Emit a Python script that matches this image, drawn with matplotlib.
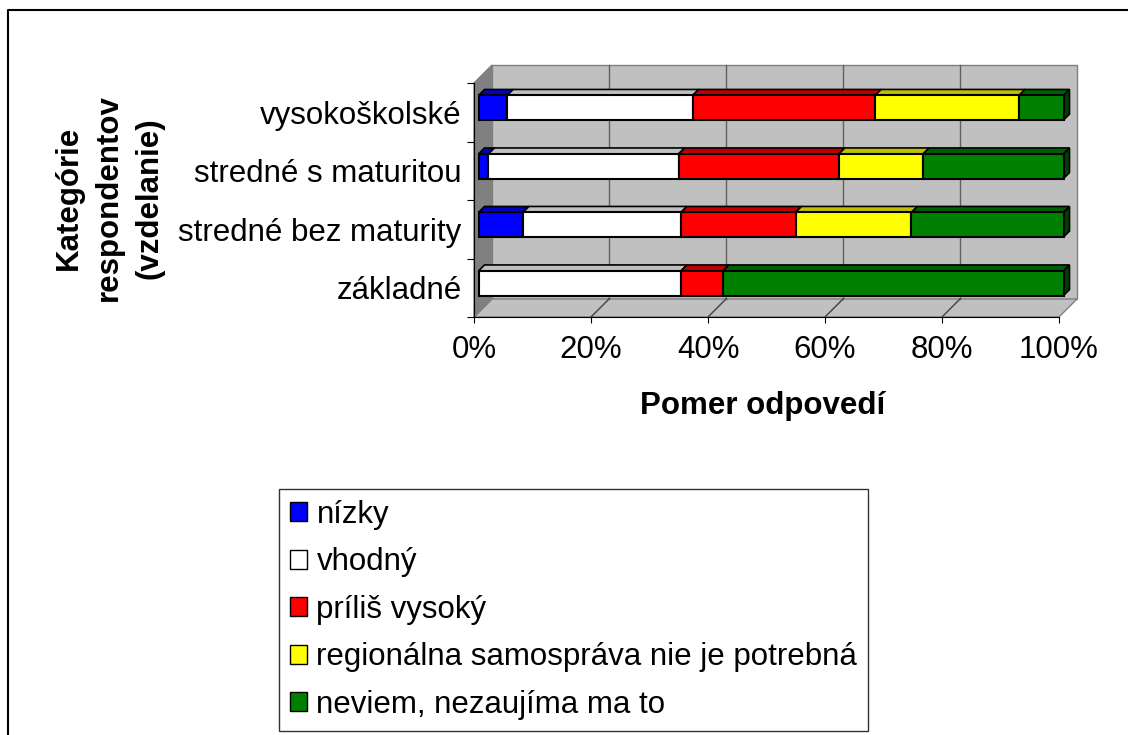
import matplotlib.pyplot as plt
from matplotlib.patches import Polygon, Patch
from matplotlib.lines import Line2D

plt.rcParams['font.family'] = ['Liberation Sans', 'DejaVu Sans']

# data (percent of answers), bottom category first
kategorie = ['základné', 'stredné bez maturity', 'stredné s maturitou', 'vysokoškolské']
odpovede = ['nízky', 'vhodný', 'príliš vysoký',
            'regionálna samospráva nie je potrebná', 'neviem, nezaujíma ma to']
nizky = [0.0, 7.6, 1.7, 4.9]
vhodny = [34.6, 27.0, 32.5, 31.7]
prilis_vysoky = [7.2, 19.6, 27.4, 31.2]
nepotrebna = [0.0, 19.8, 14.4, 24.6]
neviem = [58.2, 26.0, 24.0, 7.6]
x_ticks = [0, 20, 40, 60, 80, 100]

serie = [nizky, vhodny, prilis_vysoky, nepotrebna, neviem]
farby = ['#0000ff', '#ffffff', '#ff0000', '#ffff00', '#008000']
farby_hore = ['#0000c0', '#c0c0c0', '#c00000', '#c0c000', '#006000']
farby_bok = ['#000080', '#808080', '#800000', '#808000', '#004000']

W, H = 1128, 735
FS = 22.5
fig = plt.figure(figsize=(W / 100, H / 100), dpi=100)

# front plane of the 3d box in pixels
left, right, top, bottom = 474, 1059, 83, 317
ax = fig.add_axes([left / W, 1 - bottom / H, (right - left) / W, (bottom - top) / H])
ax.set_xlim(0, 100)
ax.set_ylim(-0.5, 3.5)

px_x = (right - left) / 100.0
px_y = (bottom - top) / 4.0
# depth of the box and of the bars (pixels -> data units)
wdx, wdy = 18 / px_x, 18 / px_y
fdx, fdy = 4.5 / px_x, 4.5 / px_y
bdx, bdy = 10.5 / px_x, 10.5 / px_y
pol = 12.3 / px_y


def poly(body, fc, ec, z, lw=1.0):
    ax.add_patch(Polygon(body, closed=True, facecolor=fc, edgecolor=ec,
                         linewidth=lw, zorder=z, clip_on=False))


y0, y1 = -0.5, 3.5
# back wall, floor, left wall
poly([(wdx, y0 + wdy), (100 + wdx, y0 + wdy), (100 + wdx, y1 + wdy), (wdx, y1 + wdy)],
     '#c0c0c0', '#808080', 1)
poly([(0, y0), (100, y0), (100 + wdx, y0 + wdy), (wdx, y0 + wdy)], '#c0c0c0', '#808080', 1)
poly([(0, y0), (wdx, y0 + wdy), (wdx, y1 + wdy), (0, y1)], '#808080', '#808080', 1)
for t in x_ticks[1:-1]:
    ax.plot([t + wdx, t + wdx], [y0 + wdy, y1 + wdy], color='#606060', lw=1, zorder=2,
            clip_on=False)
    ax.plot([t, t + wdx], [y0, y0 + wdy], color='#404040', lw=1, zorder=2, clip_on=False)

# stacked 3d bars
for i, k in enumerate(kategorie):
    zac = 0.0
    hodnoty = [s[i] for s in serie]
    posledna = max(j for j, v in enumerate(hodnoty) if v > 0)
    for j, v in enumerate(hodnoty):
        if v <= 0:
            continue
        kon = zac + v
        dole, hore = i - pol + fdy, i + pol + fdy
        a, b = zac + fdx, kon + fdx
        # top face
        poly([(a, hore), (b, hore), (kon + bdx, i + pol + bdy), (zac + bdx, i + pol + bdy)],
             farby_hore[j], 'black', 3, 1.2)
        # front face
        poly([(a, dole), (b, dole), (b, hore), (a, hore)], farby[j], 'black', 4, 1.5)
        if j == posledna:
            poly([(b, dole), (kon + bdx, i - pol + bdy), (kon + bdx, i + pol + bdy), (b, hore)],
                 farby_bok[j], 'black', 3, 1.2)
        zac = kon

for s in ['top', 'right']:
    ax.spines[s].set_visible(False)
for s in ['bottom', 'left']:
    ax.spines[s].set_color('black')
    ax.spines[s].set_zorder(5)

ax.set_xticks(x_ticks)
ax.set_xticklabels([f'{t}%' for t in x_ticks], fontsize=FS)
ax.tick_params(axis='x', direction='out', length=4, pad=9)
ax.set_yticks([-0.5, 0.5, 1.5, 2.5, 3.5])
ax.set_yticklabels([])
ax.set_yticks(range(len(kategorie)), minor=True)
ax.set_yticklabels(kategorie, minor=True, fontsize=FS)
ax.tick_params(axis='y', which='major', direction='out', length=5)
ax.tick_params(axis='y', which='minor', length=0, pad=9)
ax.patch.set_visible(False)

fig.text(763 / W, 1 - 406 / H, 'Pomer odpovedí', ha='center', va='center',
         fontsize=FS, fontweight='bold')
fig.text(109 / W, 1 - 198 / H, 'Kategórie\nrespondentov\n(vzdelanie)', rotation=90,
         ha='center', va='center', multialignment='center', linespacing=1.45,
         fontsize=FS, fontweight='bold')

handles = [Patch(facecolor=c, edgecolor='black', linewidth=1) for c in farby]
leg = fig.legend(handles, odpovede, loc='upper left', bbox_to_anchor=(279 / W, 1 - 489 / H),
                 fontsize=FS, frameon=True, fancybox=False, edgecolor='black',
                 handlelength=0.55, handleheight=0.55, handletextpad=0.3,
                 labelspacing=0.56, borderpad=0.35, borderaxespad=0)
leg.get_frame().set_linewidth(1)

# chart area border (only left and top edges are visible)
fig.add_artist(Line2D([8 / W, 8 / W, 1], [0, 1 - 10 / H, 1 - 10 / H], color='black',
                      lw=1.5, transform=fig.transFigure))

fig.savefig('out.png', dpi=100)
